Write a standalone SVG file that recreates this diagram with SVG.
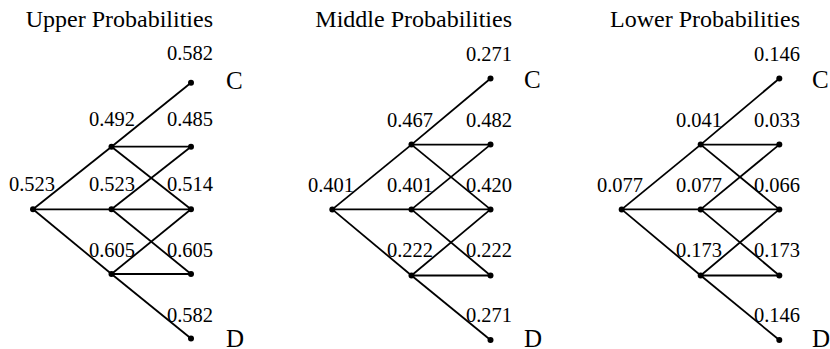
<svg xmlns="http://www.w3.org/2000/svg" width="830" height="349" viewBox="0 0 830 349">
<style>
text{font-family:"Liberation Serif","Times New Roman",serif;fill:#000}
.t{font-size:24px;text-anchor:end}
.n{font-size:20.5px;text-anchor:end}
.o{font-size:25px}
.e line{stroke:#000;stroke-width:1.8}
circle{fill:#000}
</style>
<rect width="830" height="349" fill="#fff"/>
<g id="tree1">
<text class="t" x="213" y="27">Upper Probabilities</text>
<g class="e" id="edges1">
<line x1="33" y1="209.3" x2="111.5" y2="146.7"/><line x1="33" y1="209.3" x2="111.5" y2="209.3"/><line x1="33" y1="209.3" x2="111.5" y2="274"/>
<line x1="111.5" y1="146.7" x2="191" y2="82.7"/><line x1="111.5" y1="146.7" x2="191" y2="146.7"/><line x1="111.5" y1="146.7" x2="191" y2="209.3"/>
<line x1="111.5" y1="209.3" x2="191" y2="146.7"/><line x1="111.5" y1="209.3" x2="191" y2="209.3"/><line x1="111.5" y1="209.3" x2="191" y2="274"/>
<line x1="111.5" y1="274" x2="191" y2="209.3"/><line x1="111.5" y1="274" x2="191" y2="274"/><line x1="111.5" y1="274" x2="191" y2="338.5"/>
</g>
<g id="t1-root"><circle cx="33" cy="209.3" r="3"/><text class="n" x="55" y="191">0.523</text></g>
<g id="t1-m1"><circle cx="111.5" cy="146.7" r="3"/><text class="n" x="135" y="126">0.492</text></g>
<g id="t1-m2"><circle cx="111.5" cy="209.3" r="3"/><text class="n" x="135" y="191">0.523</text></g>
<g id="t1-m3"><circle cx="111.5" cy="274" r="3"/><text class="n" x="135" y="257">0.605</text></g>
<g id="t1-r1"><circle cx="191" cy="82.7" r="3"/><text class="n" x="213" y="60">0.582</text><text class="o" x="226" y="89">C</text></g>
<g id="t1-r2"><circle cx="191" cy="146.7" r="3"/><text class="n" x="213" y="126">0.485</text></g>
<g id="t1-r3"><circle cx="191" cy="209.3" r="3"/><text class="n" x="213" y="191">0.514</text></g>
<g id="t1-r4"><circle cx="191" cy="274" r="3"/><text class="n" x="213" y="257">0.605</text></g>
<g id="t1-r5"><circle cx="191" cy="338.5" r="3"/><text class="n" x="213" y="322">0.582</text><text class="o" x="226" y="347">D</text></g>
</g>
<g id="tree2">
<text class="t" x="512" y="27">Middle Probabilities</text>
<g class="e" id="edges2">
<line x1="332.3" y1="209.4" x2="411.5" y2="144.6"/><line x1="332.3" y1="209.4" x2="411.5" y2="209.4"/><line x1="332.3" y1="209.4" x2="411.5" y2="275.5"/>
<line x1="411.5" y1="144.6" x2="490.5" y2="78.5"/><line x1="411.5" y1="144.6" x2="490.5" y2="144.6"/><line x1="411.5" y1="144.6" x2="490.5" y2="209.4"/>
<line x1="411.5" y1="209.4" x2="490.5" y2="144.6"/><line x1="411.5" y1="209.4" x2="490.5" y2="209.4"/><line x1="411.5" y1="209.4" x2="490.5" y2="275.5"/>
<line x1="411.5" y1="275.5" x2="490.5" y2="209.4"/><line x1="411.5" y1="275.5" x2="490.5" y2="275.5"/><line x1="411.5" y1="275.5" x2="490.5" y2="340"/>
</g>
<g id="t2-root"><circle cx="332.3" cy="209.4" r="3"/><text class="n" x="354" y="192">0.401</text></g>
<g id="t2-m1"><circle cx="411.5" cy="144.6" r="3"/><text class="n" x="433" y="127">0.467</text></g>
<g id="t2-m2"><circle cx="411.5" cy="209.4" r="3"/><text class="n" x="433" y="192">0.401</text></g>
<g id="t2-m3"><circle cx="411.5" cy="275.5" r="3"/><text class="n" x="433" y="257">0.222</text></g>
<g id="t2-r1"><circle cx="490.5" cy="78.5" r="3"/><text class="n" x="512" y="61">0.271</text><text class="o" x="524" y="88">C</text></g>
<g id="t2-r2"><circle cx="490.5" cy="144.6" r="3"/><text class="n" x="512" y="127">0.482</text></g>
<g id="t2-r3"><circle cx="490.5" cy="209.4" r="3"/><text class="n" x="512" y="192">0.420</text></g>
<g id="t2-r4"><circle cx="490.5" cy="275.5" r="3"/><text class="n" x="512" y="257">0.222</text></g>
<g id="t2-r5"><circle cx="490.5" cy="340" r="3"/><text class="n" x="512" y="322">0.271</text><text class="o" x="524" y="347">D</text></g>
</g>
<g id="tree3">
<text class="t" x="800" y="27">Lower Probabilities</text>
<g class="e" id="edges3">
<line x1="621.7" y1="209.4" x2="700.7" y2="144.6"/><line x1="621.7" y1="209.4" x2="700.7" y2="209.4"/><line x1="621.7" y1="209.4" x2="700.7" y2="275.5"/>
<line x1="700.7" y1="144.6" x2="779.3" y2="78.5"/><line x1="700.7" y1="144.6" x2="779.3" y2="144.6"/><line x1="700.7" y1="144.6" x2="779.3" y2="209.4"/>
<line x1="700.7" y1="209.4" x2="779.3" y2="144.6"/><line x1="700.7" y1="209.4" x2="779.3" y2="209.4"/><line x1="700.7" y1="209.4" x2="779.3" y2="275.5"/>
<line x1="700.7" y1="275.5" x2="779.3" y2="209.4"/><line x1="700.7" y1="275.5" x2="779.3" y2="275.5"/><line x1="700.7" y1="275.5" x2="779.3" y2="340"/>
</g>
<g id="t3-root"><circle cx="621.7" cy="209.4" r="3"/><text class="n" x="643" y="192">0.077</text></g>
<g id="t3-m1"><circle cx="700.7" cy="144.6" r="3"/><text class="n" x="722" y="127">0.041</text></g>
<g id="t3-m2"><circle cx="700.7" cy="209.4" r="3"/><text class="n" x="722" y="192">0.077</text></g>
<g id="t3-m3"><circle cx="700.7" cy="275.5" r="3"/><text class="n" x="722" y="257">0.173</text></g>
<g id="t3-r1"><circle cx="779.3" cy="78.5" r="3"/><text class="n" x="800" y="61">0.146</text><text class="o" x="812" y="88">C</text></g>
<g id="t3-r2"><circle cx="779.3" cy="144.6" r="3"/><text class="n" x="800" y="127">0.033</text></g>
<g id="t3-r3"><circle cx="779.3" cy="209.4" r="3"/><text class="n" x="800" y="192">0.066</text></g>
<g id="t3-r4"><circle cx="779.3" cy="275.5" r="3"/><text class="n" x="800" y="257">0.173</text></g>
<g id="t3-r5"><circle cx="779.3" cy="340" r="3"/><text class="n" x="800" y="322">0.146</text><text class="o" x="812" y="347">D</text></g>
</g>
</svg>
